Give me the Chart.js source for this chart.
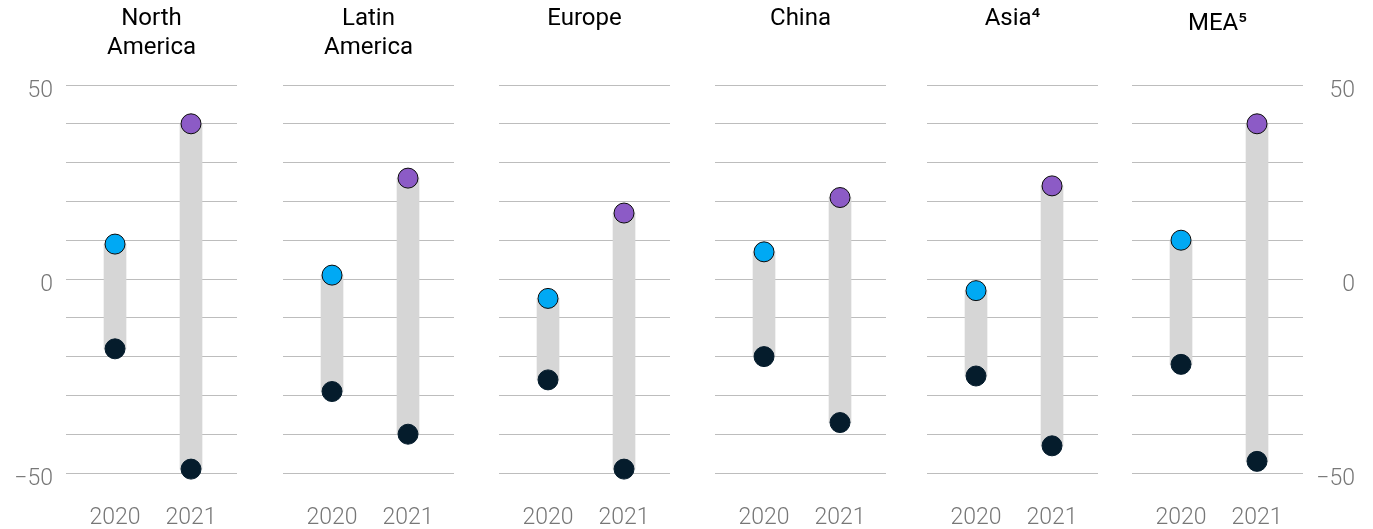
<!DOCTYPE html>
<html>
<head>
<meta charset="utf-8">
<script src="https://cdn.jsdelivr.net/npm/chart.js@4"></script>
<style>
  html, body { margin: 0; padding: 0; background: #fff; }
  #wrap { position: relative; width: 1373px; height: 529px; overflow: hidden; }
  #wrap canvas { position: absolute; top: 0; }
</style>
</head>
<body>
<div id="wrap"></div>
<script>
// data
const regions = [["North", "America"], ["Latin", "America"], ["Europe", ""], ["China", ""], ["Asia⁴", ""], ["MEA⁵", ""]];
const years = ["2020", "2021"];
const low2020 = [-18, -29, -26, -20, -25, -22];
const high2020 = [9, 1, -5, 7, -3, 10];
const low2021 = [-49, -40, -49, -37, -43, -47];
const high2021 = [40, 26, 17, 21, 24, 40];
const yTickLabels = [50, 0, -50];

// layout
const plotLeft = [66, 283, 499, 715, 927, 1132];
const plotWidth = 171;
const side = 66;

const tickFont = { family: "Roboto", size: 23, weight: 300 };
const tickColor = "#777";

function yLabel(v) {
  if (!yTickLabels.includes(v)) return "";
  return v < 0 ? "\u2212" + Math.abs(v) : String(v);
}

function makePanel(i) {
  const canvas = document.createElement("canvas");
  canvas.width = plotWidth + side * 2;
  canvas.height = 529;
  canvas.style.left = (plotLeft[i] - side) + "px";
  document.getElementById("wrap").appendChild(canvas);

  const first = i === 0;
  const last = i === regions.length - 1;
  // both side axes get the same width so the title stays centred on the plot
  const axisWidth = last ? 52 : side;
  const pad = side - axisWidth;
  const titleTop = last ? 9.5 : 4.5;

  new Chart(canvas.getContext("2d"), {
    type: "bar",
    data: {
      datasets: [
        {
          type: "bar",
          data: [
            { x: 0, y: [low2020[i], high2020[i]] },
            { x: 1, y: [low2021[i], high2021[i]] },
          ],
          backgroundColor: "#D6D6D6",
          barThickness: 22,
          order: 2,
        },
        {
          type: "scatter",
          data: [{ x: 0, y: high2020[i] }, { x: 1, y: high2021[i] }],
          backgroundColor: ["#00A9F4", "#8C5BC6"],
          borderColor: "#0B0B0B",
          borderWidth: 1,
          pointRadius: 10,
          clip: false,
          order: 1,
        },
        {
          type: "scatter",
          data: [{ x: 0, y: low2020[i] }, { x: 1, y: low2021[i] }],
          backgroundColor: "#051C2C",
          borderColor: "#051C2C",
          borderWidth: 1,
          pointRadius: 10,
          clip: false,
          order: 1,
        },
      ],
    },
    options: {
      responsive: false,
      animation: false,
      events: [],
      layout: { padding: { left: pad, right: pad } },
      plugins: {
        legend: { display: false },
        tooltip: { enabled: false },
        title: {
          display: true,
          text: regions[i],
          color: "#000",
          font: { family: "Roboto", size: 24, weight: 400, lineHeight: "29px" },
          padding: { top: titleTop, bottom: 27 - titleTop },
        },
      },
      scales: {
        x: {
          type: "linear",
          offset: false,
          min: -0.645,
          max: 1.605,
          grid: { display: false },
          border: { display: false },
          afterBuildTicks: (s) => { s.ticks = [{ value: 0 }, { value: 1 }]; },
          afterFit: (s) => { s.height = 56; },
          ticks: {
            callback: (v) => years[v],
            font: tickFont,
            color: tickColor,
            padding: 23,
            maxRotation: 0,
          },
        },
        y: {
          position: "left",
          min: -50,
          max: 50,
          grid: { color: "#BDBDBD", lineWidth: 1, drawTicks: false },
          border: { display: false },
          afterFit: (s) => { s.width = axisWidth; },
          ticks: {
            display: first,
            stepSize: 10,
            autoSkip: false,
            padding: 13,
            labelOffset: 6,
            font: tickFont,
            color: tickColor,
            callback: yLabel,
          },
        },
        y2: {
          position: "right",
          min: -50,
          max: 50,
          grid: { display: false, drawTicks: false },
          border: { display: false },
          afterFit: (s) => { s.width = axisWidth; },
          ticks: {
            display: last,
            stepSize: 10,
            autoSkip: false,
            crossAlign: "far",
            labelOffset: 6,
            font: tickFont,
            color: tickColor,
            callback: yLabel,
          },
        },
      },
    },
  });
}

regions.forEach((r, i) => makePanel(i));
</script>
</body>
</html>
